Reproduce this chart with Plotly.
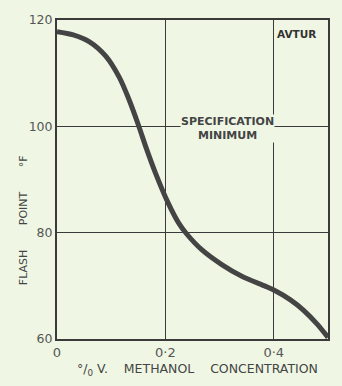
import plotly.graph_objects as go

methanol_pct = [0, 0.03, 0.06, 0.09, 0.115, 0.133, 0.15, 0.165, 0.181, 0.205, 0.224,
                0.239, 0.267, 0.304, 0.341, 0.385, 0.4, 0.43, 0.455, 0.48, 0.5]
flash_point_f = [117.8, 117.2, 115.9, 113.2, 109.2, 105.0, 100.3, 95.8, 91.4, 85.6, 81.9,
                 79.8, 76.8, 74.0, 71.8, 69.9, 69.2, 67.4, 65.4, 62.8, 60.3]

x_tick_vals = [0, 0.2, 0.4]
x_tick_text = ["0", "0·2", "0·4"]
y_tick_vals = [60, 80, 100, 120]
y_tick_text = ["60", "80", "100", "120"]

BG = "#eff7e4"
INK = "#3a3a3a"
FONT = "DejaVu Sans"

fig = go.Figure()
fig.add_trace(go.Scatter(x=methanol_pct, y=flash_point_f, mode="lines",
                         line=dict(color="#444444", width=5, shape="spline", smoothing=0.8),
                         hoverinfo="skip", showlegend=False))

fig.update_layout(
    width=342, height=386,
    margin=dict(l=57, r=14, t=15, b=47),
    paper_bgcolor=BG, plot_bgcolor=BG,
    font=dict(family=FONT, color="#555555", size=11),
    xaxis=dict(range=[0, 0.5], tickvals=x_tick_vals, ticktext=x_tick_text,
               showgrid=True, gridcolor=INK, gridwidth=1, zeroline=False,
               showline=True, linecolor=INK, linewidth=2, mirror=True,
               ticks="", tickfont=dict(size=13, color="#555555")),
    yaxis=dict(range=[60, 120], tickvals=y_tick_vals, ticktext=y_tick_text,
               showgrid=True, gridcolor=INK, gridwidth=1, zeroline=False,
               showline=True, linecolor=INK, linewidth=2, mirror=True,
               ticks="", tickfont=dict(size=12.5, color="#555555")),
    annotations=[
        dict(x=0.4, y=117.4, xref="x", yref="y", text="<b>AVTUR</b>", showarrow=False,
             xanchor="left", xshift=1, font=dict(size=10.5, color="#333333", family=FONT)),
        dict(x=0.315, y=99.5, xref="x", yref="y", text="<b>SPECIFICATION<br>MINIMUM</b>",
             showarrow=False, bgcolor=BG, borderpad=0,
             font=dict(size=11, color="#444444", family=FONT)),
        dict(x=0.065, y=-0.095, xref="paper", yref="paper", xanchor="left", yanchor="middle",
             text="°/<sub>0</sub> V.    METHANOL    CONCENTRATION", showarrow=False,
             font=dict(size=12.5, color="#444444", family=FONT)),
        dict(x=-0.125, y=0.373, xref="paper", yref="paper", textangle=-90,
             text="FLASH       POINT       °F", showarrow=False, xanchor="center",
             font=dict(size=11, color="#444444", family=FONT)),
    ],
)

fig.write_html("out.html")
